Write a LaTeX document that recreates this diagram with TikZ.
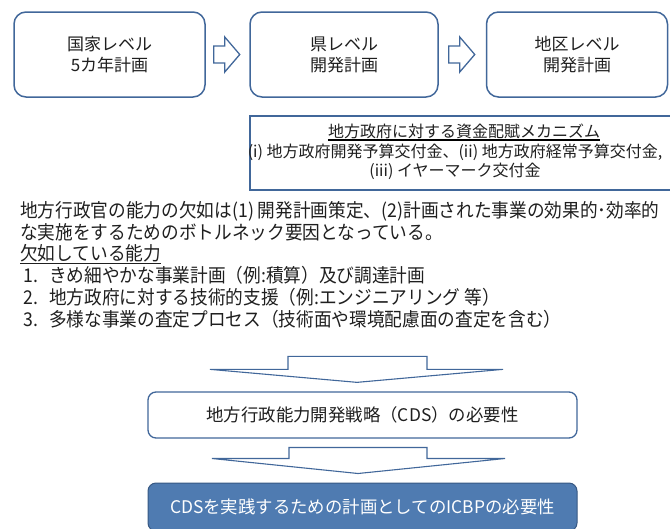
\documentclass[tikz,border=0pt]{standalone}
\usepackage{fontspec}
\setmainfont{Noto Sans CJK JP}
\newfontfamily\jpc[FakeStretch=0.93]{Noto Sans CJK JP}
\usetikzlibrary{calc}
\definecolor{bd}{HTML}{41679A}
\definecolor{fillb}{HTML}{4F7BB1}
\definecolor{tx}{HTML}{1F1F1F}
\newcommand\ulx[1]{\setbox0\hbox{#1}\rlap{\rule[-2.8pt]{\wd0}{0.9pt}}\box0}
\newcommand\itm[1]{\hspace*{3pt}\makebox[26pt][l]{#1}}
\begin{document}
\begin{tikzpicture}[x=1pt,y=-1pt,
  lvl/.style={draw=bd, line width=1.5pt, rounded corners=12pt, fill=white,
    minimum width=#1, minimum height=85pt, align=center, text=tx,
    font=\fontsize{17}{21}\selectfont, inner sep=0pt},
  blockarr/.style={draw=bd, line width=1.3pt, fill=white, line join=miter},
  widearr/.style={draw=bd, line width=1.1pt, fill=white, line join=miter},
  fundbox/.style={draw=bd, line width=1.5pt, minimum width=430pt, minimum height=74pt, inner sep=0pt},
  fundtext/.style={align=center, text=tx, font=\fontsize{16}{19}\selectfont, inner sep=0pt},
  ulline/.style={draw=black, line width=1.1pt},
  para/.style={anchor=north west, align=left, text=tx, inner sep=0pt,
    font=\jpc\fontsize{19}{21.8}\selectfont},
  cdsbox/.style={draw=bd, line width=1.3pt, rounded corners=8pt, fill=white,
    minimum width=429pt, minimum height=46pt, text=tx, inner sep=0pt,
    font=\fontsize{17.4}{20}\selectfont},
  icbpbox/.style={draw=bd!85!black, line width=1pt, rounded corners=8pt, fill=fillb,
    minimum width=429pt, minimum height=48pt, text=white, inner sep=0pt,
    font=\fontsize{17.4}{20}\selectfont}
]
\useasboundingbox (0,0) rectangle (670,528);

% top level boxes
\node[lvl=191pt] (n1) at (109.5,54.5) {国家レベル\\5カ年計画};
\node[lvl=188pt] (n2) at (344,54.5) {県レベル\\開発計画};
\node[lvl=181pt] (n3) at (577,54.5) {地区レベル\\開発計画};

% block arrows between top boxes
\draw[blockarr] ($(n1.east)+(8,-8.5)$) -- ++(11,0) -- ++(0,-9) -- ++(15,17.5)
  -- ++(-15,17.5) -- ++(0,-9) -- ++(-11,0) -- cycle;
\draw[blockarr] ($(n2.east)+(10,-8.5)$) -- ++(11,0) -- ++(0,-9) -- ++(15,17.5)
  -- ++(-15,17.5) -- ++(0,-9) -- ++(-11,0) -- cycle;

% funding mechanism box
\node[fundbox] (fund) at (465,153) {};
\node[fundtext] (fundt) at (455,162) {(i) 地方政府開発予算交付金、(ii) 地方政府経常予算交付金,\\
  (iii) イヤーマーク交付金};
\node[fundtext, text height=11.5pt, text depth=2pt] (fundtitle) at (464,132.5) {地方政府に対する資金配賦メカニズム};
\coordinate (ulA) at ($(fundtitle.west)+(0,7.5)$);
\coordinate (ulB) at ($(fundtitle.east)+(0,7.5)$);
\draw[ulline] (ulA) -- (ulB);

% paragraph
\node[para] (p1) at (20,201) {地方行政官の能力の欠如は(1) 開発計画策定、(2)計画された事業の効果的･効率的\\
な実施をするためのボトルネック要因となっている。\\
\ulx{欠如している能力}\\
\itm{1.}きめ細やかな事業計画（例:積算）及び調達計画\\
\itm{2.}地方政府に対する技術的支援（例:エンジニアリング 等）\\
\itm{3.}多様な事業の査定プロセス（技術面や環境配慮面の査定を含む）};

% CDS and ICBP boxes
\node[cdsbox] (cds) at (362.5,415) {地方行政能力開発戦略（CDS）の必要性};
\node[icbpbox] (icbp) at (362.5,507) {CDSを実践するための計画としてのICBPの必要性};

% wide down arrows
\draw[widearr] ($(cds.north)+(-152.5,-22)$) -- ++(78,0) -- ++(0,-13) -- ++(139,0)
  -- ++(0,13) -- ++(76,0) -- ($(cds.north)+(-5.5,-9)$) -- cycle;
\draw[widearr] ($(icbp.north)+(-150.5,-24)$) -- ++(77,0) -- ++(0,-11) -- ++(138,0)
  -- ++(0,11) -- ++(78,0) -- ($(icbp.north)+(-4.5,-9)$) -- cycle;
\end{tikzpicture}
\end{document}
